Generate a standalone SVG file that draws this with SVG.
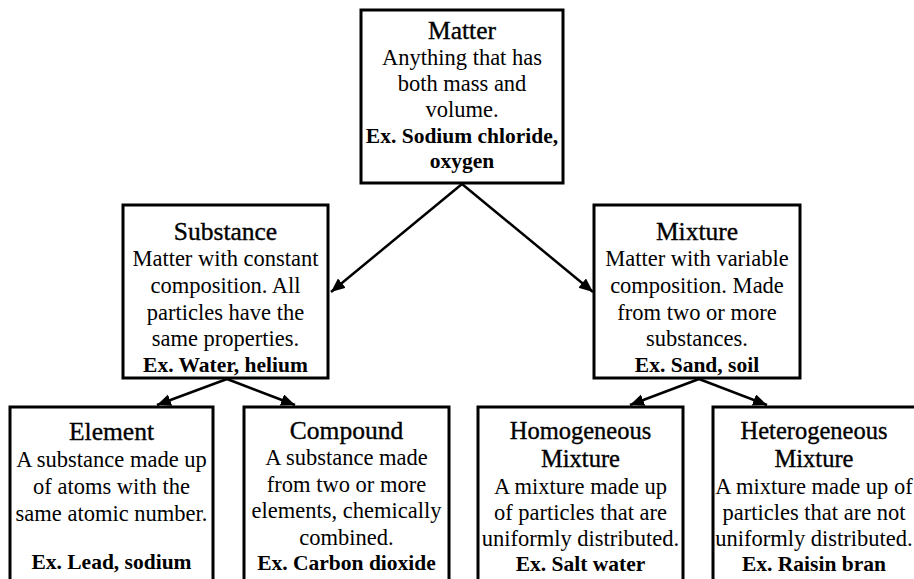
<svg xmlns="http://www.w3.org/2000/svg" width="914" height="579" viewBox="0 0 914 579">
<defs>
<style>
.box{fill:#fff;stroke:#000;stroke-width:3}
.t{font-family:"Liberation Serif","Times New Roman",serif;font-size:25.5px;text-anchor:middle;fill:#000;stroke:#000;stroke-width:0.35}
.t2{font-size:24.5px}
.b{font-family:"Liberation Serif","Times New Roman",serif;font-size:22.5px;text-anchor:middle;fill:#000}
.x{font-weight:bold;font-size:21.5px}
.c{stroke:#000;stroke-width:2.5;fill:none;marker-end:url(#ah)}
</style>
<marker id="ah" markerUnits="userSpaceOnUse" markerWidth="16" markerHeight="14" refX="14" refY="6" orient="auto">
<path d="M0,0 L14,6 L0,12 Z" fill="#000"/>
</marker>
</defs>
<rect width="914" height="579" fill="#fff"/>
<g id="connectors">
<line class="c" x1="462" y1="184" x2="331" y2="292"/>
<line class="c" x1="462" y1="184" x2="593" y2="292"/>
<line class="c" x1="227" y1="379" x2="157" y2="405"/>
<line class="c" x1="227" y1="379" x2="295" y2="405"/>
<line class="c" x1="699" y1="379" x2="630" y2="405"/>
<line class="c" x1="699" y1="379" x2="767" y2="405"/>
</g>
<g id="matter">
<rect class="box" x="361" y="10" width="202" height="173"/>
<text class="t" x="462" y="39">Matter</text>
<text class="b" x="462" y="65">Anything that has</text>
<text class="b" x="462" y="91">both mass and</text>
<text class="b" x="462" y="117">volume.</text>
<text class="b x" x="462" y="143">Ex. Sodium chloride,</text>
<text class="b x" x="462" y="168">oxygen</text>
</g>
<g id="substance">
<rect class="box" x="123" y="205" width="205" height="173"/>
<text class="t" x="225.5" y="240">Substance</text>
<text class="b" x="225.5" y="266">Matter with constant</text>
<text class="b" x="225.5" y="293">composition. All</text>
<text class="b" x="225.5" y="320">particles have the</text>
<text class="b" x="225.5" y="346">same properties.</text>
<text class="b x" x="225.5" y="372">Ex. Water, helium</text>
</g>
<g id="mixture">
<rect class="box" x="594" y="205" width="206" height="173"/>
<text class="t" x="697" y="240">Mixture</text>
<text class="b" x="697" y="266">Matter with variable</text>
<text class="b" x="697" y="293">composition. Made</text>
<text class="b" x="697" y="320">from two or more</text>
<text class="b" x="697" y="346">substances.</text>
<text class="b x" x="697" y="372">Ex. Sand, soil</text>
</g>
<g id="element">
<rect class="box" x="10" y="407" width="203" height="200"/>
<text class="t" x="111.5" y="440">Element</text>
<text class="b" x="111.5" y="467">A substance made up</text>
<text class="b" x="111.5" y="494">of atoms with the</text>
<text class="b" x="111.5" y="521">same atomic number.</text>
<text class="b x" x="111.5" y="569">Ex. Lead, sodium</text>
</g>
<g id="compound">
<rect class="box" x="244" y="407" width="205" height="200"/>
<text class="t" x="346.5" y="439">Compound</text>
<text class="b" x="346.5" y="465">A substance made</text>
<text class="b" x="346.5" y="492">from two or more</text>
<text class="b" x="346.5" y="518">elements, chemically</text>
<text class="b" x="346.5" y="545">combined.</text>
<text class="b x" x="346.5" y="570">Ex. Carbon dioxide</text>
</g>
<g id="homogeneous">
<rect class="box" x="478" y="407" width="205" height="200"/>
<text class="t t2" x="580.5" y="439">Homogeneous</text>
<text class="t t2" x="580.5" y="467">Mixture</text>
<text class="b" x="580.5" y="494">A mixture made up</text>
<text class="b" x="580.5" y="520">of particles that are</text>
<text class="b" x="580.5" y="546">uniformly distributed.</text>
<text class="b x" x="580.5" y="571">Ex. Salt water</text>
</g>
<g id="heterogeneous">
<rect class="box" x="713" y="407" width="205" height="200"/>
<text class="t t2" x="814" y="439">Heterogeneous</text>
<text class="t t2" x="814" y="467">Mixture</text>
<text class="b" x="814" y="494">A mixture made up of</text>
<text class="b" x="814" y="520">particles that are not</text>
<text class="b" x="814" y="546">uniformly distributed.</text>
<text class="b x" x="814" y="571">Ex. Raisin bran</text>
</g>
</svg>
